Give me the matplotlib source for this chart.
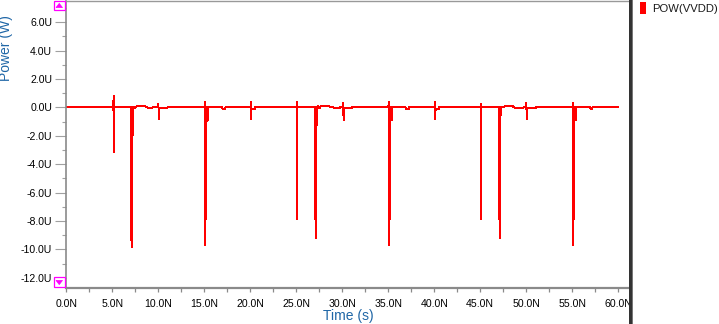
import matplotlib
matplotlib.use("Agg")
import matplotlib.pyplot as plt
from matplotlib.patches import Rectangle, Polygon
import numpy as np

# ---- data (time in ns, power in uW) ----
t_period1 = [0, 5.08, 5.10, 5.12, 5.14, 5.16, 5.18,
             7.05, 7.07, 7.13, 7.17, 7.19, 7.26, 7.27, 7.28,
             7.36, 7.47, 7.57, 8.04, 8.4, 8.7, 8.9, 9.3, 9.5, 9.86,
             10.0, 10.02, 10.04, 10.06, 11.0, 11.02,
             15.05, 15.07, 15.09, 15.11, 15.13, 15.22, 15.24, 15.33, 15.35, 15.37,
             16.96, 16.97, 17.3, 17.31,
             20.05, 20.07, 20.09, 20.11, 20.5, 20.52]
p_period1 = [0, 0, 0.4, -0.2, 0.8, -3.2, 0,
             0, -9.35, -9.35, -9.9, 0, 0, -2.0, 0,
             0.05, -0.07, 0.05, 0.1, 0.1, 0.05, -0.07, -0.07, 0.05, 0,
             0, 0.3, -0.85, -0.05, -0.05, 0,
             0, 0.4, 0, -9.7, -7.87, -7.87, 0, 0, -1.0, 0,
             0, -0.1, -0.1, 0,
             0, 0.4, -0.85, -0.12, -0.12, 0]

t_period2 = [25.05, 25.07, 25.09, 25.11,
             27.05, 27.07, 27.13, 27.17, 27.19, 27.26, 27.27, 27.28,
             27.4, 27.5, 27.65, 28.2, 28.5, 28.7, 29.0, 29.2, 29.5, 29.8,
             30.1, 30.12, 30.14, 30.16, 31.05, 31.07,
             35.02, 35.04, 35.06, 35.08, 35.10, 35.20, 35.22, 35.34, 35.36, 35.38,
             36.9, 36.91, 37.25, 37.26,
             40.08, 40.1, 40.12, 40.14, 40.5, 40.52]
p_period2 = [0, 0.4, -7.87, 0,
             0, -7.9, -7.9, -9.2, 0, 0, -1.25, 0,
             0.07, -0.07, 0.07, 0.1, 0.1, 0, 0, -0.07, -0.07, 0,
             0, 0.35, -0.9, -0.05, -0.05, 0,
             0, 0.4, 0, -9.7, -7.87, -7.87, 0, 0, -0.9, 0,
             0, -0.1, -0.1, 0,
             0, 0.4, -0.85, -0.1, -0.1, 0]

t_period3 = [45.05, 45.07, 45.09, 45.11,
             47.05, 47.07, 47.13, 47.17, 47.19, 47.26, 47.27, 47.28,
             47.4, 47.6, 47.7, 48.5, 48.6, 49.1, 49.5, 49.7,
             50.0, 50.02, 50.04, 50.06, 51.0, 51.02,
             55.05, 55.07, 55.09, 55.11, 55.13, 55.22, 55.24, 55.34, 55.36, 55.38,
             56.96, 56.97, 57.17, 57.18, 60.0]
p_period3 = [0, 0.3, -7.87, 0,
             0, -7.9, -7.9, -9.2, 0, 0, -0.6, 0.05,
             0, 0.05, 0.1, 0.1, 0, -0.05, -0.05, 0,
             0, 0.33, -0.85, -0.07, -0.07, 0,
             0, 0.33, 0, -9.7, -7.87, -7.87, 0, 0, -0.9, 0,
             0, -0.1, -0.1, 0, 0]

x_ticks = [0, 5, 10, 15, 20, 25, 30, 35, 40, 45, 50, 55, 60]
x_labels = ["0.0N", "5.0N", "10.0N", "15.0N", "20.0N", "25.0N", "30.0N",
            "35.0N", "40.0N", "45.0N", "50.0N", "55.0N", "60.0N"]
y_ticks = [-12, -10, -8, -6, -4, -2, 0, 2, 4, 6]
y_labels = ["-12.0U", "-10.0U", "-8.0U", "-6.0U", "-4.0U", "-2.0U",
            "0.0U", "2.0U", "4.0U", "6.0U"]
series_name = "POW(VVDD)"
x_title = "Time (s)"
y_title = "Power (W)"

# ---- figure ----
W, H = 719, 324
fig = plt.figure(figsize=(W / 100, H / 100), dpi=100)
fig.patch.set_facecolor("white")

def fx(px):
    return px / W

def fy(py):
    return 1 - py / H

ax_left, ax_right, ax_top, ax_bottom = 66, 629, 0.7, 287.7
ax = fig.add_axes([fx(ax_left), fy(ax_bottom), (ax_right - ax_left) / W,
                   (ax_bottom - ax_top) / H])

t_all = np.array(t_period1 + t_period2 + t_period3)
p_all = np.array(p_period1 + p_period2 + p_period3)
ax.plot(t_all, p_all, color="#ff0000", lw=0.72, solid_joinstyle="miter",
        antialiased=False)

ax.set_xlim(-0.03, 61.17)
ax.set_ylim(-12.70, 7.51)

gray = "#8a8a8a"
ax.spines["right"].set_visible(False)
ax.spines["top"].set_color("#999999")
ax.spines["top"].set_linewidth(1.0)
ax.spines["left"].set_color(gray)
ax.spines["left"].set_linewidth(1.2)
ax.spines["bottom"].set_color(gray)
ax.spines["bottom"].set_linewidth(1.6)

tick_font = dict(family="Liberation Sans", size=7.6)
ax.set_xticks(x_ticks)
ax.set_xticklabels(x_labels, **tick_font)
ax.set_xticks([v + 2.5 for v in x_ticks[:-1]], minor=True)
ax.set_yticks(y_ticks)
ax.set_yticklabels(y_labels, **tick_font)
ax.set_yticks([v + 1 for v in y_ticks], minor=True)

ax.tick_params(axis="x", which="both", direction="out", length=3.0, width=0.9,
               color=gray, pad=5.0, labelcolor="black")
ax.tick_params(axis="y", which="major", direction="out", length=8.0, width=0.8,
               color="#a0a0a0", pad=2.0, labelcolor="black")
ax.tick_params(axis="y", which="minor", direction="out", length=3.0, width=0.8,
               color="#a0a0a0")

# axis titles
title_color = "#1f66a6"
fig.text(fx(348), fy(316), x_title, ha="center", va="center",
         family="Liberation Sans", size=10, color=title_color)
fig.text(fx(6), fy(48.5), y_title, ha="center", va="center", rotation=90,
         family="Liberation Sans", size=10, color=title_color)

# legend
fig.patches.append(Rectangle((fx(639.5), fy(14)), 6.5 / W, 12.3 / H,
                             transform=fig.transFigure, facecolor="#ff0000",
                             edgecolor="none"))
fig.text(fx(652), fy(11.8), series_name, ha="left", va="baseline",
         family="Liberation Sans", size=8.1, color="#1a1a1a")

# divider bar
fig.patches.append(Rectangle((fx(629), 0), 3 / W, 1, transform=fig.transFigure,
                             facecolor="#333333", edgecolor="none"))
fig.patches.append(Rectangle((fx(632), 0), 1.2 / W, 1, transform=fig.transFigure,
                             facecolor="#777777", edgecolor="none"))

# magenta scroll boxes
mag = "#ff00ff"
for (y0, y1, up) in [(1.0, 10.3, True), (277.3, 286.7, False)]:
    fig.patches.append(Rectangle((fx(53.5), fy(y1)), 11 / W, (y1 - y0) / H,
                                 transform=fig.transFigure, facecolor="white",
                                 edgecolor=mag, linewidth=0.9))
    if up:
        tri = [(fx(56), fy(7.6)), (fx(62.5), fy(7.6)), (fx(59.25), fy(3.4))]
    else:
        tri = [(fx(56), fy(280.4)), (fx(62.5), fy(280.4)), (fx(59.25), fy(284.6))]
    fig.patches.append(Polygon(tri, closed=True, transform=fig.transFigure,
                               facecolor=mag, edgecolor=mag, linewidth=0.5))

fig.savefig("out.png", dpi=100)
